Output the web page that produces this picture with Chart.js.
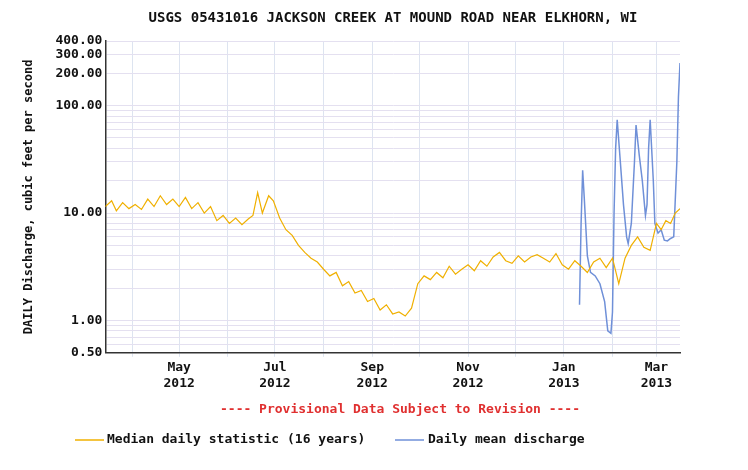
<!DOCTYPE html>
<html>
<head>
<meta charset="utf-8">
<script src="https://cdn.jsdelivr.net/npm/chart.js@4/dist/chart.umd.min.js"></script>
<style>
  body { margin: 0; background: #fff; }
  #wrap { width: 748px; height: 470px; position: relative; }
</style>
</head>
<body>
<div id="wrap"><canvas id="myChart" width="748" height="470"></canvas></div>
<script>
// median daily statistic (16 years)
var medianDates = ['2012-03-15','2012-03-19','2012-03-22','2012-03-26','2012-03-30','2012-04-03','2012-04-07','2012-04-11','2012-04-15','2012-04-19','2012-04-23','2012-04-27','2012-05-01','2012-05-05','2012-05-09','2012-05-13','2012-05-17','2012-05-21','2012-05-25','2012-05-29','2012-06-02','2012-06-06','2012-06-10','2012-06-14','2012-06-17','2012-06-20','2012-06-23','2012-06-27','2012-06-30','2012-07-04','2012-07-08','2012-07-12','2012-07-16','2012-07-20','2012-07-24','2012-07-28','2012-08-01','2012-08-05','2012-08-09','2012-08-13','2012-08-17','2012-08-21','2012-08-25','2012-08-29','2012-09-02','2012-09-06','2012-09-10','2012-09-14','2012-09-18','2012-09-22','2012-09-26','2012-09-30','2012-10-04','2012-10-08','2012-10-12','2012-10-16','2012-10-20','2012-10-24','2012-10-28','2012-11-01','2012-11-05','2012-11-09','2012-11-13','2012-11-17','2012-11-21','2012-11-25','2012-11-29','2012-12-03','2012-12-07','2012-12-11','2012-12-15','2012-12-19','2012-12-23','2012-12-27','2012-12-31','2013-01-04','2013-01-08','2013-01-12','2013-01-16','2013-01-20','2013-01-24','2013-01-28','2013-02-01','2013-02-05','2013-02-09','2013-02-13','2013-02-17','2013-02-21','2013-02-25','2013-03-01','2013-03-04','2013-03-07','2013-03-10','2013-03-13','2013-03-16'];
var medianValues = [11.5,13,10.5,12.5,11,12,10.8,13.5,11.5,14.5,12,13.5,11.5,14,11,12.5,10,11.5,8.5,9.5,8,9,7.8,8.8,9.5,15.5,10,14.5,13,9,7,6.2,5,4.3,3.8,3.5,3,2.6,2.8,2.1,2.3,1.8,1.9,1.5,1.6,1.25,1.4,1.15,1.2,1.1,1.3,2.2,2.6,2.4,2.8,2.5,3.2,2.7,3,3.3,2.9,3.6,3.2,3.9,4.3,3.6,3.4,4,3.5,3.9,4.1,3.8,3.5,4.2,3.3,3,3.6,3.2,2.8,3.5,3.8,3.1,3.8,2.2,3.8,5,6,4.8,4.5,8,7,8.5,8,10,11];

// daily mean discharge
var meanDates = ['2013-01-11','2013-01-12','2013-01-13','2013-01-14','2013-01-16','2013-01-18','2013-01-21','2013-01-24','2013-01-27','2013-01-29','2013-01-31','2013-02-01','2013-02-02','2013-02-03','2013-02-04','2013-02-06','2013-02-08','2013-02-10','2013-02-11','2013-02-13','2013-02-15','2013-02-16','2013-02-18','2013-02-20','2013-02-22','2013-02-23','2013-02-24','2013-02-25','2013-02-27','2013-02-28','2013-03-02','2013-03-04','2013-03-06','2013-03-08','2013-03-10','2013-03-12','2013-03-14','2013-03-15','2013-03-16'];
var meanValues = [1.4,8,25,14,4,2.8,2.6,2.2,1.5,0.8,0.76,1.2,10,40,74,30,12,6,5.2,8,30,66,35,20,9.5,12,40,74,20,8,6.5,7,5.6,5.5,5.8,6,30,120,250];

var yLabelTicks = [0.5, 1, 10, 100, 200, 300, 400];
var monthStarts = ['2012-04-01','2012-05-01','2012-06-01','2012-07-01','2012-08-01','2012-09-01','2012-10-01','2012-11-01','2012-12-01','2013-01-01','2013-02-01','2013-03-01'];
var monthLabels = ['', ['May','2012'], '', ['Jul','2012'], '', ['Sep','2012'], '', ['Nov','2012'], '', ['Jan','2013'], '', ['Mar','2013']];

var start = Date.UTC(2012, 2, 15);
function dayNo(s) {
	var p = s.split('-');
	return (Date.UTC(+p[0], +p[1] - 1, +p[2]) - start) / 86400000;
}
function pts(dates, vals) {
	return dates.map(function (d, i) { return { x: dayNo(d), y: vals[i] }; });
}

var minorY = [];
[0.1, 1, 10, 100].forEach(function (dec) {
	for (var k = 1; k < 10; k++) {
		var v = +(dec * k).toFixed(2);
		if (v >= 0.5 && v <= 400) minorY.push(v);
	}
});

var font = "'DejaVu Sans Mono', monospace";

var extras = {
	id: 'extras',
	afterDraw: function (chart) {
		var c = chart.ctx;
		c.save();
		c.textBaseline = 'middle';
		c.textAlign = 'center';
		c.fillStyle = '#111';
		c.font = "bold 14px " + font;
		c.fillText('USGS 05431016 JACKSON CREEK AT MOUND ROAD NEAR ELKHORN, WI', 393, 18);
		c.font = "bold 13px " + font;
		c.fillStyle = '#e03030';
		c.fillText('---- Provisional Data Subject to Revision ----', 400, 410);
		c.textAlign = 'left';
		c.fillStyle = '#111';
		c.fillText('Median daily statistic (16 years)', 107, 440);
		c.fillText('Daily mean discharge', 428, 440);
		c.lineWidth = 1.5;
		c.strokeStyle = '#f0b000';
		c.beginPath(); c.moveTo(75, 440); c.lineTo(104, 440); c.stroke();
		c.strokeStyle = '#6f90d8';
		c.beginPath(); c.moveTo(395, 440); c.lineTo(424, 440); c.stroke();
		c.restore();
	}
};

new Chart(document.getElementById('myChart'), {
	type: 'line',
	data: {
		datasets: [{
			label: 'Median daily statistic (16 years)',
			data: pts(medianDates, medianValues),
			borderColor: '#f0b000',
			borderWidth: 1.2,
			pointRadius: 0,
			tension: 0
		}, {
			label: 'Daily mean discharge',
			data: pts(meanDates, meanValues),
			borderColor: '#6f90d8',
			borderWidth: 1.5,
			pointRadius: 0,
			tension: 0
		}]
	},
	options: {
		responsive: false,
		animation: false,
		devicePixelRatio: 1,
		layout: { padding: { top: 41, right: 68, bottom: 76, left: 22 } },
		plugins: {
			legend: { display: false },
			tooltip: { enabled: false },
			title: { display: false }
		},
		scales: {
			x: {
				type: 'linear',
				min: 0,
				max: 366,
				afterBuildTicks: function (ax) {
					ax.ticks = monthStarts.map(function (d) { return { value: dayNo(d) }; });
				},
				ticks: {
					autoSkip: false,
					maxRotation: 0,
					color: '#111',
					font: { family: font, size: 13, weight: 'bold' },
					callback: function (v, i) { return monthLabels[i]; }
				},
				grid: { color: '#dde4f0', drawTicks: true, tickLength: 4 },
				border: { color: '#333', width: 1.5 }
			},
			y: {
				type: 'logarithmic',
				min: 0.5,
				max: 400,
				afterBuildTicks: function (ax) {
					ax.ticks = minorY.map(function (v) { return { value: v }; });
				},
				ticks: {
					autoSkip: false,
					color: '#111',
					font: { family: font, size: 13, weight: 'bold' },
					callback: function (v) {
						return yLabelTicks.indexOf(v) >= 0 ? v.toFixed(2) : '';
					}
				},
				grid: { color: '#e4e0f0', drawTicks: false },
				border: { color: '#333', width: 1.5 },
				title: {
					display: true,
					text: 'DAILY Discharge, cubic feet per second',
					color: '#111',
					font: { family: font, size: 12, weight: 'bold' },
					padding: { top: 0, bottom: 16 }
				}
			}
		}
	},
	plugins: [extras]
});
</script>
</body>
</html>
